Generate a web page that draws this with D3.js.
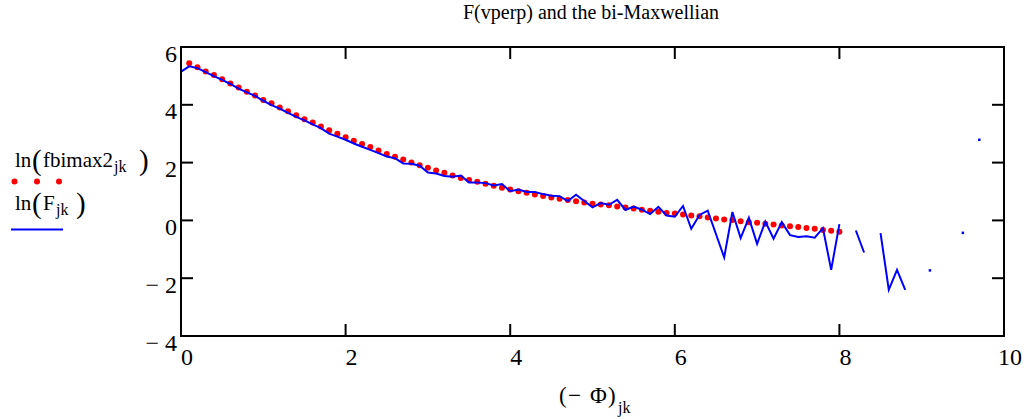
<!DOCTYPE html>
<html>
<head>
<meta charset="utf-8">
<script src="https://cdn.jsdelivr.net/npm/d3@7"></script>
<style>
  html, body { margin: 0; padding: 0; background: #fff; }
  svg { display: block; }
  text { font-family: "Liberation Serif", "Times New Roman", serif; fill: #000; }
</style>
</head>
<body>
<svg id="chart" width="1027" height="419"></svg>
<script>
// Energy grid (−Φ)_jk
const phiGrid = [
  0.0, 0.1, 0.2, 0.3, 0.4, 0.5, 0.6, 0.7, 0.8, 0.9,
  1.0, 1.1, 1.2, 1.3, 1.4, 1.5, 1.6, 1.7, 1.8, 1.9,
  2.0, 2.1, 2.2, 2.3, 2.4, 2.5, 2.6, 2.7, 2.8, 2.9,
  3.0, 3.1, 3.2, 3.3, 3.4, 3.5, 3.6, 3.7, 3.8, 3.9,
  4.0, 4.1, 4.2, 4.3, 4.4, 4.5, 4.6, 4.7, 4.8, 4.9,
  5.0, 5.1, 5.2, 5.3, 5.4, 5.5, 5.6, 5.7, 5.8, 5.9,
  6.0, 6.1, 6.2, 6.3, 6.4, 6.5, 6.6, 6.7, 6.8, 6.9,
  7.0, 7.1, 7.2, 7.3, 7.4, 7.5, 7.6, 7.7, 7.8, 7.9,
  8.0, 8.1, 8.2, 8.3, 8.4, 8.5, 8.6, 8.7, 8.8, 8.9,
  9.0, 9.1, 9.2, 9.3, 9.4, 9.5, 9.6, 9.7, 9.8, 9.9
];

// ln(fbimax2_jk): bi-Maxwellian fit (null where not evaluated)
const lnFbimax = [
  null, 5.44, 5.30, 5.15, 5.03, 4.88, 4.74, 4.60, 4.45, 4.32,
  4.17, 4.05, 3.91, 3.78, 3.64, 3.50, 3.39, 3.25, 3.12, 3.00,
  2.88, 2.76, 2.64, 2.54, 2.42, 2.30, 2.20, 2.11, 2.00, 1.91,
  1.82, 1.73, 1.65, 1.55, 1.47, 1.40, 1.34, 1.27, 1.20, 1.13,
  1.07, 1.01, 0.96, 0.90, 0.84, 0.79, 0.75, 0.71, 0.66, 0.62,
  0.58, 0.55, 0.52, 0.48, 0.45, 0.41, 0.37, 0.33, 0.30, 0.26,
  0.24, 0.20, 0.17, 0.14, 0.10, 0.07, 0.03, 0.01, -0.03, -0.06,
  -0.08, -0.12, -0.14, -0.18, -0.20, -0.23, -0.26, -0.29, -0.33, -0.36,
  -0.39, null, null, null, null, null, null, null, null, null,
  null, null, null, null, null, null, null, null, null, null
];

// ln(F_jk): measured distribution (null where F is empty)
const lnF = [
  5.15, 5.33, 5.27, 5.13, 4.99, 4.86, 4.72, 4.56, 4.43, 4.31,
  4.14, 3.99, 3.87, 3.72, 3.58, 3.46, 3.32, 3.19, 3.00, 2.90,
  2.79, 2.66, 2.55, 2.44, 2.33, 2.21, 2.15, 1.97, 1.96, 1.89,
  1.66, 1.62, 1.54, 1.51, 1.55, 1.31, 1.31, 1.29, 1.21, 1.26,
  1.01, 1.07, 0.98, 0.98, 0.91, 0.85, 0.84, 0.67, 0.89, 0.67,
  0.45, 0.60, 0.54, 0.71, 0.36, 0.48, 0.37, 0.22, 0.47, 0.17,
  0.13, 0.50, -0.29, 0.19, 0.34, -0.47, -1.28, 0.29, -0.61, 0.09,
  -0.81, -0.04, -0.63, -0.06, -0.51, -0.57, -0.55, -0.60, -0.27, -1.71,
  -0.13, null, -0.35, -1.11, null, -0.44, -2.40, -1.71, -2.40, null,
  null, -1.73, null, null, null, -0.43, null, 2.79, null, null
];

const xTicks = [0, 2, 4, 6, 8, 10];
const yTicks = [-4, -2, 0, 2, 4, 6];
const xTickLabels = ["0", "2", "4", "6", "8", "10"];
const yTickLabels = ["\u2212 4", "\u2212 2", "0", "2", "4", "6"];

const svg = d3.select("#chart");
const plot = { left: 181, right: 1004, top: 47, bottom: 336 };

const x = d3.scaleLinear().domain([0, 10]).range([plot.left, plot.right]);
const y = d3.scaleLinear().domain([-4, 6]).range([plot.bottom, plot.top]);

const RED = "#ff0000";
const BLUE = "#0000ff";
const TICK = 12;

// Title
svg.append("text")
  .attr("x", 591)
  .attr("y", 19)
  .attr("text-anchor", "middle")
  .attr("font-size", 20)
  .text("F(vperp) and the bi-Maxwellian");

// Data layers
const fitPts = phiGrid.map((p, i) => ({ p, v: lnFbimax[i] })).filter(d => d.v != null);
svg.append("g").selectAll("circle")
  .data(fitPts)
  .join("circle")
  .attr("cx", d => x(d.p))
  .attr("cy", d => y(d.v))
  .attr("r", 3)
  .attr("fill", RED);

const meas = phiGrid.map((p, i) => ({ p, v: lnF[i] }));
const line = d3.line()
  .defined(d => d.v != null)
  .x(d => x(d.p))
  .y(d => y(d.v));
svg.append("path")
  .datum(meas)
  .attr("d", line)
  .attr("fill", "none")
  .attr("stroke", BLUE)
  .attr("stroke-width", 2)
  .attr("stroke-linejoin", "miter");

// Lone samples with empty neighbours show as small specks
const lone = meas.filter((d, i) => d.v != null &&
  (i === 0 || meas[i - 1].v == null) &&
  (i === meas.length - 1 || meas[i + 1].v == null));
svg.append("g").selectAll("rect")
  .data(lone)
  .join("rect")
  .attr("x", d => x(d.p) - 1.25)
  .attr("y", d => y(d.v) - 1.25)
  .attr("width", 2.5)
  .attr("height", 2.5)
  .attr("fill", BLUE);

// Frame with inward ticks on all four sides
const axisG = svg.append("g").attr("stroke", "#000").attr("stroke-width", 2);
axisG.append("rect")
  .attr("x", plot.left).attr("y", plot.top)
  .attr("width", plot.right - plot.left)
  .attr("height", plot.bottom - plot.top)
  .attr("fill", "none");

xTicks.forEach(t => {
  axisG.append("line").attr("x1", x(t)).attr("x2", x(t))
    .attr("y1", plot.bottom).attr("y2", plot.bottom - TICK);
  axisG.append("line").attr("x1", x(t)).attr("x2", x(t))
    .attr("y1", plot.top).attr("y2", plot.top + TICK);
});
yTicks.forEach(t => {
  axisG.append("line").attr("y1", y(t)).attr("y2", y(t))
    .attr("x1", plot.left).attr("x2", plot.left + TICK);
  axisG.append("line").attr("y1", y(t)).attr("y2", y(t))
    .attr("x1", plot.right).attr("x2", plot.right - TICK);
});

// Tick labels
svg.append("g").selectAll("text")
  .data(xTicks)
  .join("text")
  .attr("x", d => x(d) + 6)
  .attr("y", 365)
  .attr("text-anchor", "middle")
  .attr("font-size", 24)
  .text((d, i) => xTickLabels[i]);

svg.append("g").selectAll("text")
  .data(yTicks)
  .join("text")
  .attr("x", 177)
  .attr("y", d => y(d) + 14.5)
  .attr("text-anchor", "end")
  .attr("font-size", 24)
  .text((d, i) => yTickLabels[i]);

// X axis label: (−Φ)_jk
const xlab = svg.append("g").attr("font-size", 23);
xlab.append("text").attr("x", 559).attr("y", 403).text("(");
xlab.append("text").attr("x", 568).attr("y", 403).text("\u2212");
xlab.append("text").attr("x", 590).attr("y", 403).text("\u03A6");
xlab.append("text").attr("x", 608).attr("y", 403).text(")");
xlab.append("text").attr("x", 618).attr("y", 413).attr("font-size", 16).text("jk");

// Legend
const leg = svg.append("g");
function legendLabel(yBase, name, nameX, subX, closeX) {
  leg.append("text").attr("x", 15).attr("y", yBase).attr("font-size", 21).text("ln");
  leg.append("text").attr("x", 32).attr("y", yBase + 3).attr("font-size", 29).text("(");
  leg.append("text").attr("x", nameX).attr("y", yBase).attr("font-size", 21).text(name);
  leg.append("text").attr("x", subX).attr("y", yBase + 5).attr("font-size", 16).text("jk");
  leg.append("text").attr("x", closeX).attr("y", yBase + 3).attr("font-size", 29).text(")");
}
legendLabel(167, "fbimax2", 43, 114, 139);
legendLabel(210, "F", 43, 56, 76);

leg.selectAll("circle")
  .data([14.5, 37, 59])
  .join("circle")
  .attr("cx", d => d)
  .attr("cy", 181.5)
  .attr("r", 3)
  .attr("fill", RED);

leg.append("line")
  .attr("x1", 11).attr("x2", 63)
  .attr("y1", 229.5).attr("y2", 229.5)
  .attr("stroke", BLUE)
  .attr("stroke-width", 2);
</script>
</body>
</html>
